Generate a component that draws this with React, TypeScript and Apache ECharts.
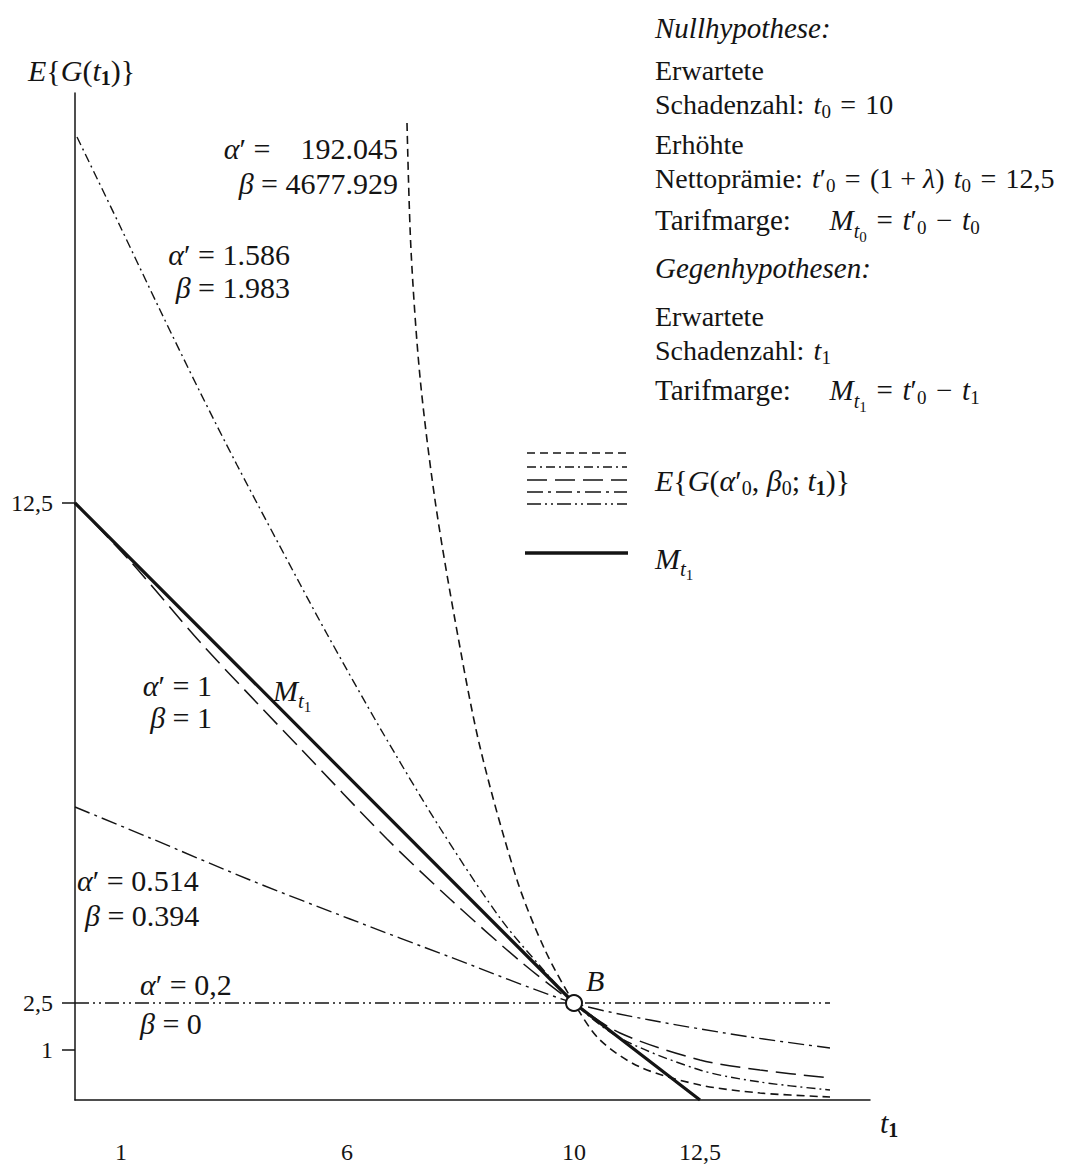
import React, { useEffect, useRef } from "react";
import * as echarts from "echarts";

// Schematic drawing units (the figure is not to scale): x along t1, y = E{G(t1)}
const X_TICK_POS = [46, 272, 499, 625];
const X_TICK_LABELS = ["1", "6", "10", "12,5"];
const Y_TICK_POS = [50, 97, 597];
const Y_TICK_LABELS = ["1", "2,5", "12,5"];
const X_MAX = 795;
const Y_MAX = 1007;

// alpha' = 192.045, beta = 4677.929 (short dashes)
const T1_A192 = [332, 336, 345, 360, 380, 405, 442, 470, 499, 525, 565, 625, 685, 755];
const G_A192 = [977, 850, 723, 600, 480, 353, 220, 150, 97, 60, 33, 15, 7, 3];
// alpha' = 1.586, beta = 1.983 (dash-dot)
const T1_A1586 = [2, 45, 85, 125, 162, 225, 252, 305, 365, 425, 465, 499, 545, 625, 685, 755];
const G_A1586 = [963, 874, 790, 708, 635, 516, 466, 372, 272, 182, 134, 97, 62, 30, 18, 10];
// alpha' = 1, beta = 1 (long dashes)
const T1_A1 = [0, 55, 125, 182, 225, 312, 375, 445, 499, 545, 625, 685, 755];
const G_A1 = [597, 539, 458, 397, 352, 261, 201, 139, 97, 67, 40, 30, 22];
// alpha' = 0.514, beta = 0.394 (long dash-dot)
const T1_A0514 = [0, 75, 175, 275, 375, 499, 575, 675, 755];
const G_A0514 = [293, 262, 220, 181, 143, 97, 80, 63, 52];
// alpha' = 0,2, beta = 0 (dash-dot-dot)
const T1_A02 = [0, 755];
const G_A02 = [97, 97];
// Tarifmarge M_t1 (solid)
const T1_M = [0, 499, 625];
const G_M = [597, 97, 0];
// point B
const B_POINT = [499, 97];

const INK = "#141414";
const SERIF = "'Liberation Serif', 'DejaVu Serif', serif";
const fnt = (size: number, style = "") => `${style} ${size}px ${SERIF}`.trim();

function makeRich(fs: number): any {
  const k = fs / 30;
  return {
    i: { font: fnt(fs, "italic"), fill: INK },
    s: { font: fnt(Math.round(20 * k)), fill: INK, padding: [Math.round(15 * k), 0, 0, 0] },
    sb: { font: fnt(Math.round(20 * k), "bold"), fill: INK, padding: [Math.round(15 * k), 0, 0, 0] },
    si: { font: fnt(Math.round(21 * k), "italic"), fill: INK, padding: [Math.round(22 * k), 0, 0, 0] },
    ss: { font: fnt(Math.round(15 * k)), fill: INK, padding: [Math.round(34 * k), 0, 0, 0] },
  };
}

const SP = "\u2005";
const SQ = "\u2004";
const TEXTS: { x: number; y: number; a?: string; lh?: number; fs?: number; t: string }[] = [
  { x: 28, y: 70, t: "{i|E}{{i|G}({i|t}{sb|1})}" },
  { x: 398, y: 148, a: "right", t: `{i|α}′${SP}=\u2003192.045` },
  { x: 398, y: 183, a: "right", t: `{i|β}${SP}=${SP}4677.929` },
  { x: 290, y: 254, a: "right", t: `{i|α}′${SP}=${SP}1.586` },
  { x: 290, y: 287, a: "right", t: `{i|β}${SP}=${SP}1.983` },
  { x: 212, y: 685, a: "right", t: `{i|α}′${SP}=${SP}1` },
  { x: 212, y: 717, a: "right", t: `{i|β}${SP}=${SP}1` },
  { x: 273, y: 690, t: "{i|M}{si|t}{ss|1}" },
  { x: 77, y: 880, t: `{i|α}′${SP}=${SP}0.514` },
  { x: 85, y: 915, t: `{i|β}${SP}=${SP}0.394` },
  { x: 140, y: 984, t: `{i|α}′${SP}=${SP}0,2` },
  { x: 140, y: 1023, t: `{i|β}${SP}=${SP}0` },
  { x: 586, y: 980, t: "{i|B}" },
  { x: 880, y: 1122, t: "{i|t}{sb|1}" },
  { x: 655, y: 28, fs: 29, t: "{i|Nullhypothese:}" },
  { x: 655, y: 87.5, fs: 28, lh: 34, t: `Erwartete\nSchadenzahl:${SQ}{i|t}{s|0}${SQ}=${SQ}10` },
  { x: 655, y: 161, fs: 28, lh: 34, t: `Erhöhte\nNettoprämie:${SQ}{i|t}′{s|0}${SQ}=${SQ}(1${SP}+${SP}{i|λ})${SQ}{i|t}{s|0}${SQ}=${SQ}12,5` },
  { x: 655, y: 220, fs: 29, t: `Tarifmarge:\u2003${SQ}{i|M}{si|t}{ss|0}${SQ}=${SQ}{i|t}′{s|0}${SQ}−${SQ}{i|t}{s|0}` },
  { x: 655, y: 268, fs: 29, t: "{i|Gegenhypothesen:}" },
  { x: 655, y: 333, fs: 28, lh: 34, t: `Erwartete\nSchadenzahl:${SQ}{i|t}{s|1}` },
  { x: 655, y: 390, fs: 29, t: `Tarifmarge:\u2003${SQ}{i|M}{si|t}{ss|1}${SQ}=${SQ}{i|t}′{s|0}${SQ}−${SQ}{i|t}{s|1}` },
  { x: 655, y: 480, t: `{i|E}{{i|G}({i|α}′{s|0},${SP}{i|β}{s|0};${SP}{i|t}{sb|1})}` },
  { x: 655, y: 558, t: "{i|M}{si|t}{ss|1}" },
];

const DASH_A192 = [8, 5];
const DASH_A1586 = [9, 4, 2, 4];
const DASH_A1 = [20, 8];
const DASH_A0514 = [16, 5, 3, 5];
const DASH_A02 = [14, 4, 2, 4, 2, 4];

const LEGEND_LINES = [
  { y: 453, dash: DASH_A192, w: 1.6 },
  { y: 467, dash: DASH_A1586, w: 1.4 },
  { y: 480, dash: DASH_A1, w: 1.5 },
  { y: 492, dash: DASH_A0514, w: 1.4 },
  { y: 504, dash: DASH_A02, w: 1.4 },
];

function lineSeries(xs: number[], ys: number[], dash: any, width: number, smooth: boolean) {
  return {
    type: "line",
    data: xs.map((x, i) => [x, ys[i]]),
    symbol: "none",
    showSymbol: false,
    smooth: smooth ? 0.3 : false,
    silent: true,
    lineStyle: { color: INK, width, type: dash, cap: "butt" },
    z: 3,
  };
}

export default function App() {
  const ref = useRef<HTMLDivElement>(null);
  useEffect(() => {
    const chart = echarts.init(ref.current as HTMLDivElement, undefined, {
      renderer: "svg",
      width: 1088,
      height: 1169,
    });
    const graphic: any[] = [];
    TEXTS.forEach((t) => {
      const fs = t.fs || 30;
      graphic.push({
        type: "text",
        x: t.x,
        y: t.y,
        silent: true,
        style: {
          text: t.t,
          font: fnt(fs),
          fill: INK,
          align: t.a || "left",
          textAlign: t.a || "left",
          verticalAlign: "middle",
          textVerticalAlign: "middle",
          lineHeight: t.lh || 46,
          rich: makeRich(fs),
        },
      });
    });
    LEGEND_LINES.forEach((l) => {
      graphic.push({
        type: "line",
        silent: true,
        shape: { x1: 527, y1: l.y, x2: 627, y2: l.y },
        style: { stroke: INK, lineWidth: l.w, lineDash: l.dash },
      });
    });
    graphic.push({
      type: "line",
      silent: true,
      shape: { x1: 525, y1: 553, x2: 628, y2: 553 },
      style: { stroke: INK, lineWidth: 3.5 },
    });

    chart.setOption({
      animation: false,
      backgroundColor: "#ffffff",
      grid: { left: 75, right: 218, top: 93, bottom: 69, containLabel: false },
      xAxis: {
        type: "value",
        min: 0,
        max: X_MAX,
        axisLine: { show: true, onZero: false, lineStyle: { color: INK, width: 1.5 } },
        splitLine: { show: false },
        axisTick: { show: false },
        axisLabel: {
          customValues: X_TICK_POS,
          formatter: (v: number) => X_TICK_LABELS[X_TICK_POS.indexOf(v)] ?? "",
          color: INK,
          fontFamily: SERIF,
          fontSize: 24,
          margin: 40,
        },
      },
      yAxis: {
        type: "value",
        min: 0,
        max: Y_MAX,
        axisLine: { show: true, onZero: false, lineStyle: { color: INK, width: 1.5 } },
        splitLine: { show: false },
        axisTick: { show: true, customValues: Y_TICK_POS, length: 13, lineStyle: { color: INK, width: 1.5 } },
        axisLabel: {
          customValues: Y_TICK_POS,
          formatter: (v: number) => Y_TICK_LABELS[Y_TICK_POS.indexOf(v)] ?? "",
          color: INK,
          fontFamily: SERIF,
          fontSize: 24,
          margin: 22,
        },
      },
      graphic,
      series: [
        lineSeries(T1_A192, G_A192, DASH_A192, 1.6, true),
        lineSeries(T1_A1586, G_A1586, DASH_A1586, 1.4, true),
        lineSeries(T1_A1, G_A1, DASH_A1, 1.5, true),
        lineSeries(T1_A0514, G_A0514, DASH_A0514, 1.4, true),
        lineSeries(T1_A02, G_A02, DASH_A02, 1.4, false),
        lineSeries(T1_M, G_M, "solid", 3.2, false),
        {
          type: "scatter",
          data: [B_POINT],
          symbol: "circle",
          symbolSize: 16,
          silent: true,
          itemStyle: { color: "#ffffff", opacity: 1, borderColor: INK, borderWidth: 2 },
          z: 6,
        },
      ],
    });
    return () => chart.dispose();
  }, []);
  return (
    <div
      ref={ref}
      style={{ position: "absolute", left: 0, top: 0, width: 1088, height: 1169, background: "#fff" }}
    />
  );
}
